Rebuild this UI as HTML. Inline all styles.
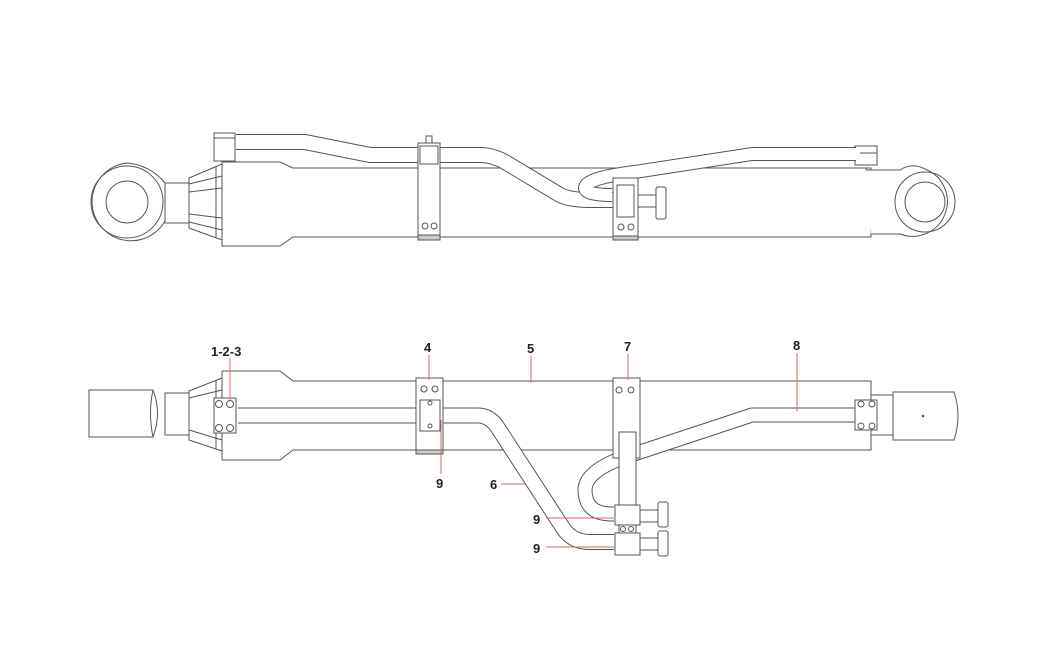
<!DOCTYPE html>
<html><head><meta charset="utf-8"><style>
html,body{margin:0;padding:0;background:#fff;}
svg{display:block}
text{font-family:"Liberation Sans",sans-serif;font-weight:bold;font-size:13px;fill:#222}
</style></head><body>
<svg width="1044" height="655" viewBox="0 0 1044 655" xmlns="http://www.w3.org/2000/svg">
<g fill="none" stroke="#555" stroke-width="1">
<!-- ===== TOP VIEW ===== -->
<!-- left eye -->
<path d="M165 183 Q150 165 127 163 A39 39 0 1 0 165 221 Z" fill="#fff"/>
<circle cx="127" cy="202" r="36"/>
<circle cx="127" cy="202" r="21"/>
<rect x="165" y="183" width="24" height="40" fill="#fff"/>
<!-- gland cone -->
<path d="M189 178 L222 164 L222 240 L189 228 Z" fill="#fff"/>
<line x1="189" y1="184" x2="222" y2="176"/><line x1="189" y1="192" x2="222" y2="188"/>
<line x1="189" y1="214" x2="222" y2="218"/><line x1="189" y1="222" x2="222" y2="230"/>
<line x1="216" y1="166" x2="216" y2="238"/>
<!-- barrel -->
<path d="M222 162 L280 162 L293 168 L871 168 L871 237 L293 237 L280 246 L222 246 Z" fill="#fff"/>
<!-- right rod end & eye -->
<path d="M866 168 L866 170 L900 170 Q912 162 925 169 A33 33 0 1 1 900 234 L871 234" fill="#fff"/>
<circle cx="925" cy="202" r="30"/>
<circle cx="925" cy="202" r="20"/>
<!-- fittings -->
<rect x="214" y="133" width="21" height="28" fill="#fff"/>
<line x1="214" y1="138" x2="235" y2="138"/>
<rect x="855" y="146" width="22" height="19" fill="#fff"/>
<line x1="860" y1="153" x2="877" y2="153"/>
</g>
<!-- top pipes (double line) -->
<g fill="none" stroke-linejoin="round">
<path d="M236 142 L305 142 L370 155 L480 155 Q495 155 510 165 L560 195 Q570 200 590 200 L615 200" stroke="#555" stroke-width="16"/>
<path d="M236 142 L305 142 L370 155 L480 155 Q495 155 510 165 L560 195 Q570 200 590 200 L615 200" stroke="#fff" stroke-width="14"/>
<path d="M856 154 L752 154 L635 172 Q585 178 585 188 Q586 195 612 195" stroke="#555" stroke-width="14"/>
<path d="M856 154 L752 154 L635 172 Q585 178 585 188 Q586 195 612 195" stroke="#fff" stroke-width="12"/>
</g>
<g fill="#fff" stroke="#555" stroke-width="1">
<!-- clamp 1 top -->
<rect x="418" y="143" width="22" height="97"/>
<rect x="420" y="146" width="18" height="18"/>
<rect x="426" y="136" width="6" height="7"/>
<circle cx="425" cy="226" r="3"/><circle cx="434" cy="226" r="3"/>
<rect x="418" y="235" width="22" height="5" fill="#ccc"/>
<!-- clamp 2 top -->
<rect x="613" y="178" width="25" height="62"/>
<rect x="617" y="185" width="17" height="32"/>
<circle cx="621" cy="227" r="3"/><circle cx="631" cy="227" r="3"/>
<rect x="613" y="236" width="25" height="4" fill="#ccc"/>
<rect x="638" y="195" width="18" height="12"/>
<rect x="656" y="187" width="10" height="32" rx="2"/>
</g>

<!-- ===== BOTTOM VIEW ===== -->
<g fill="#fff" stroke="#555" stroke-width="1">
<path d="M89 390 L153 390 Q162 413 153 437 L89 437 Z"/>
<rect x="165" y="393" width="24" height="42"/>
<path d="M153 390 Q148 413 153 437" fill="none"/>
<path d="M189 391 L222 378 L222 451 L189 440 Z"/>
<line x1="189" y1="398" x2="222" y2="390"/><line x1="189" y1="430" x2="222" y2="440"/>
<line x1="216" y1="380" x2="216" y2="449"/>
<path d="M222 371 L280 371 L293 381 L871 381 L871 450 L293 450 L280 460 L222 460 Z"/>
<!-- right rod -->
<rect x="871" y="395" width="24" height="40"/>
<path d="M893 392 L954 392 Q962 416 954 440 L893 440 Z"/>
<circle cx="923" cy="416" r="0.8" fill="#555"/>
</g>
<g fill="none" stroke-linejoin="round">
<path d="M238 415.5 L478 415.5 Q490 415.5 498 428 L563 528 Q572 542 590 542 L614 542" stroke="#555" stroke-width="16"/>
<path d="M238 415.5 L478 415.5 Q490 415.5 498 428 L563 528 Q572 542 590 542 L614 542" stroke="#fff" stroke-width="14"/>
<path d="M858 415 L752 415 L622 458 Q585 472 585 490 Q585 514 612 514 L614 514" stroke="#555" stroke-width="15"/>
<path d="M858 415 L752 415 L622 458 Q585 472 585 490 Q585 514 612 514 L614 514" stroke="#fff" stroke-width="13"/>
</g>
<g fill="#fff" stroke="#555" stroke-width="1">
<!-- left flange -->
<rect x="214" y="398" width="22" height="35"/>
<circle cx="219" cy="404" r="3.5"/><circle cx="230" cy="404" r="3.5"/>
<circle cx="219" cy="428" r="3.5"/><circle cx="230" cy="428" r="3.5"/>
<!-- right flange -->
<rect x="855" y="400" width="22" height="30"/>
<circle cx="861" cy="404" r="3"/><circle cx="872" cy="404" r="3"/>
<circle cx="861" cy="426" r="3"/><circle cx="872" cy="426" r="3"/>
<!-- clamp 4 -->
<rect x="416" y="378" width="27" height="76"/>
<rect x="420" y="400" width="20" height="31"/>
<circle cx="424" cy="389" r="3"/><circle cx="435" cy="389" r="3"/>
<circle cx="430" cy="403" r="2"/><circle cx="430" cy="426" r="2"/>
<rect x="416" y="450" width="27" height="4" fill="#ccc"/>
<!-- clamp 7 -->
<rect x="613" y="378" width="27" height="80"/>
<circle cx="619" cy="390" r="3"/><circle cx="631" cy="390" r="3"/>
<rect x="619" y="432" width="17" height="123"/>
<rect x="615" y="505" width="25" height="20"/>
<rect x="615" y="533" width="25" height="22"/>
<circle cx="623" cy="529" r="2.5"/><circle cx="631" cy="529" r="2.5"/>
<rect x="640" y="510" width="18" height="12"/>
<rect x="658" y="502" width="10" height="25" rx="2"/>
<rect x="640" y="538" width="18" height="12"/>
<rect x="658" y="531" width="10" height="25" rx="2"/>
</g>
<!-- leaders -->
<g stroke="#d66" stroke-width="1">
<line x1="230" y1="358" x2="230" y2="400"/>
<line x1="429" y1="355" x2="429" y2="380"/>
<line x1="531" y1="356" x2="531" y2="383"/>
<line x1="628" y1="354" x2="628" y2="380"/>
<line x1="797" y1="353" x2="797" y2="411"/>
<line x1="441" y1="420" x2="441" y2="474"/>
<line x1="501" y1="484" x2="525" y2="484"/>
<line x1="546" y1="518" x2="614" y2="518"/>
<line x1="546" y1="547" x2="614" y2="547"/>
</g>
<text x="211" y="356">1-2-3</text>
<text x="424" y="352">4</text>
<text x="527" y="353">5</text>
<text x="624" y="351">7</text>
<text x="793" y="350">8</text>
<text x="436" y="488">9</text>
<text x="490" y="489">6</text>
<text x="533" y="524">9</text>
<text x="533" y="553">9</text>
</svg>
</body></html>
